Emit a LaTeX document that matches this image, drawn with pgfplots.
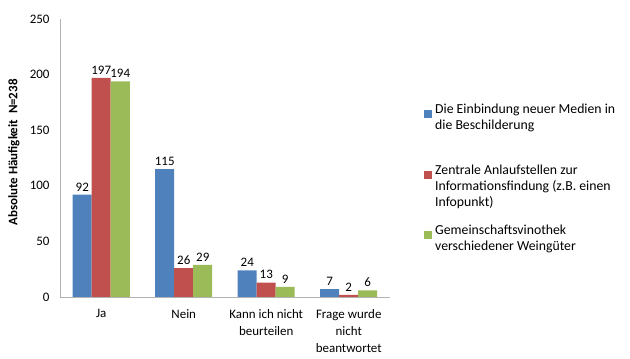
\documentclass[border=0pt]{standalone}
\usepackage{pgfplots}
\pgfplotsset{compat=1.18}
\usepackage{fontspec}
\setmainfont{Carlito}
\definecolor{cblue}{HTML}{4F81BD}
\definecolor{cred}{HTML}{C0504D}
\definecolor{cgreen}{HTML}{9BBB59}
\begin{document}
\begin{tikzpicture}
\useasboundingbox (0,0) rectangle (630bp,359bp);
\begin{axis}[
  at={(60bp,62bp)}, anchor=south west,
  scale only axis, width=330bp, height=278bp,
  ymin=0, ymax=250, ytick={0,50,...,250},
  xmin=-0.5, xmax=3.5, xtick={0,1,2,3},
  xticklabels={Ja, Nein, {Kann ich nicht\\beurteilen}, {Frage wurde\\nicht\\beantwortet}},
  enlargelimits=false,
  axis lines*=left,
  axis line style={-, draw=gray!60, line width=0.8pt},
  major tick length=0pt,
  /pgf/number format/assume math mode=true,
  tick label style={font=\fontsize{13}{17.3}\selectfont},
  xticklabel style={align=center, anchor=north, yshift=-9bp},
  yticklabel style={xshift=-7bp},
  ylabel={\textbf{Absolute Häufigkeit\ \ N=238}},
  ylabel style={at={(axis description cs:-0.14,0.52)}, anchor=center, rotate=0, font=\fontsize{13}{15}\selectfont},
  ybar, bar width=19bp, ybar=0pt,
  nodes near coords,
  every node near coord/.append style={font=\fontsize{13}{15}\selectfont, black},
  legend style={at={(1,0.705)}, anchor=north west, xshift=31bp, draw=none, fill=none,
    row sep=0pt, font=\fontsize{13.8}{16}\selectfont,
    nodes={text depth=49bp, inner ysep=1bp, inner xsep=3bp}},
  legend cell align=left,
  legend image code/.code={\fill[#1] (0bp,15.5bp) rectangle (8bp,23.5bp);},
]
\addplot[fill=cblue, draw=none] coordinates {(0,92) (1,115) (2,24) (3,7)};
\addlegendentry{\parbox[t]{195bp}{\raggedright Die Einbindung neuer Medien in\\die Beschilderung}}
\addplot[fill=cred, draw=none] coordinates {(0,197) (1,26) (2,13) (3,2)};
\addlegendentry{\parbox[t]{195bp}{\raggedright Zentrale Anlaufstellen zur\\Informationsfindung (z.B. einen\\Infopunkt)}}
\addplot[fill=cgreen, draw=none] coordinates {(0,194) (1,29) (2,9) (3,6)};
\addlegendentry{\parbox[t]{195bp}{\raggedright Gemeinschaftsvinothek\\verschiedener Weingüter}}
\end{axis}
\end{tikzpicture}
\end{document}
